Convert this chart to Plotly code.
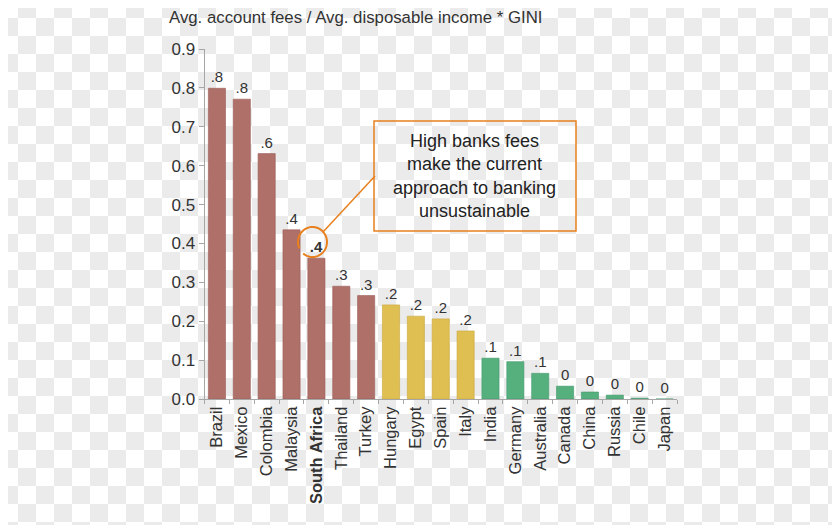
import numpy as np
import plotly.graph_objects as go

WIN_W, WIN_H = 840, 525
OFF = 8  # default page body margin
W, H = WIN_W - OFF, WIN_H - OFF

countries = ["Brazil", "Mexico", "Colombia", "Malaysia", "South Africa", "Thailand", "Turkey",
             "Hungary", "Egypt", "Spain", "Italy", "India", "Germany", "Australia",
             "Canada", "China", "Russia", "Chile", "Japan"]
values = [0.799, 0.771, 0.631, 0.435, 0.362, 0.290, 0.266,
          0.242, 0.213, 0.206, 0.175, 0.105, 0.096, 0.066,
          0.033, 0.018, 0.010, 0.002, 0.0]
labels = [".8", ".8", ".6", ".4", ".4", ".3", ".3",
          ".2", ".2", ".2", ".2", ".1", ".1", ".1",
          "0", "0", "0", "0", "0"]
groups = ["high"] * 7 + ["mid"] * 4 + ["low"] * 8
highlight = "South Africa"
y_ticks = [0.0, 0.1, 0.2, 0.3, 0.4, 0.5, 0.6, 0.7, 0.8, 0.9]

title_text = "Avg. account fees / Avg. disposable income * GINI"
box_text = "High banks fees<br>make the current<br>approach to banking<br>unsustainable"

colors = {"high": "#b0706a", "mid": "#e0bf52", "low": "#55b07e"}
edges = {"high": "#9a5c56", "mid": "#c9a840", "low": "#46996c"}
ORANGE = "#e8801e"
FONT = "Liberation Sans, Arial, sans-serif"


def px(x):
    return (x - OFF) / W


def py(y):
    return 1 - (y - OFF) / H


# checkerboard background (transparency pattern), aligned to window pixels
sq = 18
parts = []
for r in range(int(np.ceil(WIN_H / sq))):
    for c in range(int(np.ceil(WIN_W / sq))):
        if (r + c) % 2 == 1:
            wx0, wx1 = max(c * sq, OFF), min((c + 1) * sq, WIN_W)
            wy0, wy1 = max(r * sq, OFF), min((r + 1) * sq, WIN_H)
            if wx1 <= wx0 or wy1 <= wy0:
                continue
            x0, x1 = px(wx0), px(wx1)
            y0, y1 = py(wy0), py(wy1)
            parts.append(f"M{x0:.5f},{y0:.5f}H{x1:.5f}V{y1:.5f}H{x0:.5f}Z")
checker = "".join(parts)

text_disp = [f"<b>{t}</b>" if c == highlight else t for t, c in zip(labels, countries)]
tick_disp = [f"<b>{c}</b>" if c == highlight else c for c in countries]

fig = go.Figure()
fig.add_trace(go.Bar(
    x=countries, y=values,
    marker=dict(color=[colors[g] for g in groups],
                line=dict(color=[edges[g] for g in groups], width=0.6)),
    text=text_disp, textposition="outside",
    textfont=dict(family=FONT, size=15, color="#333333"),
    cliponaxis=False, hoverinfo="skip",
))

shapes = [dict(type="path", path=checker, xref="paper", yref="paper",
               fillcolor="#ebebeb", line=dict(width=0), layer="below")]

# open hand-drawn circle around highlighted label
cx, cy, rx, ry = 312.5, 242, 14.5, 15
ang = np.linspace(np.deg2rad(-130), np.deg2rad(205), 60)
pts = [(px(cx + rx * np.cos(a)), py(cy - ry * np.sin(a))) for a in ang]
circ = "M" + "L".join(f"{a:.5f},{b:.5f}" for a, b in pts)
shapes.append(dict(type="path", path=circ, xref="paper", yref="paper",
                   line=dict(color=ORANGE, width=2)))
# connector
shapes.append(dict(type="line", xref="paper", yref="paper",
                   x0=px(323), y0=py(232), x1=px(375), y1=py(176),
                   line=dict(color=ORANGE, width=1.5)))
# callout box
shapes.append(dict(type="rect", xref="paper", yref="paper",
                   x0=px(374), y0=py(121), x1=px(576), y1=py(231),
                   line=dict(color=ORANGE, width=1.5), fillcolor="rgba(0,0,0,0)"))

annotations = [
    dict(text=title_text, xref="paper", yref="paper", x=px(167), y=py(18),
         xanchor="left", yanchor="middle", showarrow=False,
         font=dict(family=FONT, size=16.8, color="#333333")),
    dict(text=box_text, xref="paper", yref="paper", x=px(475), y=py(176),
         xanchor="center", yanchor="middle", showarrow=False, align="center",
         font=dict(family=FONT, size=18, color="#222222")),
]

fig.update_layout(
    width=W, height=H,
    margin=dict(l=0, r=0, t=0, b=0),
    paper_bgcolor="white", plot_bgcolor="rgba(0,0,0,0)",
    showlegend=False, bargap=0.31,
    shapes=shapes, annotations=annotations,
    font=dict(family=FONT, color="#333333"),
    xaxis=dict(domain=[px(204.5), px(677)], tickangle=-90,
               tickmode="array", tickvals=countries, ticktext=tick_disp,
               showline=True, linecolor="#a6a6a6", linewidth=1,
               ticks="outside", tickson="boundaries", ticklen=4, tickcolor="#a6a6a6",
               showgrid=False, zeroline=False, automargin=False,
               tickfont=dict(family=FONT, size=16.5, color="#333333")),
    yaxis=dict(domain=[py(399), py(49)], range=[0, 0.9],
               tickmode="array", tickvals=y_ticks, tickformat=".1f",
               showline=True, linecolor="#a6a6a6", linewidth=1,
               ticks="outside", ticklen=5, tickcolor="#a6a6a6",
               showgrid=False, zeroline=False, automargin=False,
               tickfont=dict(family=FONT, size=17, color="#333333")),
)

fig.write_html("out.html")
